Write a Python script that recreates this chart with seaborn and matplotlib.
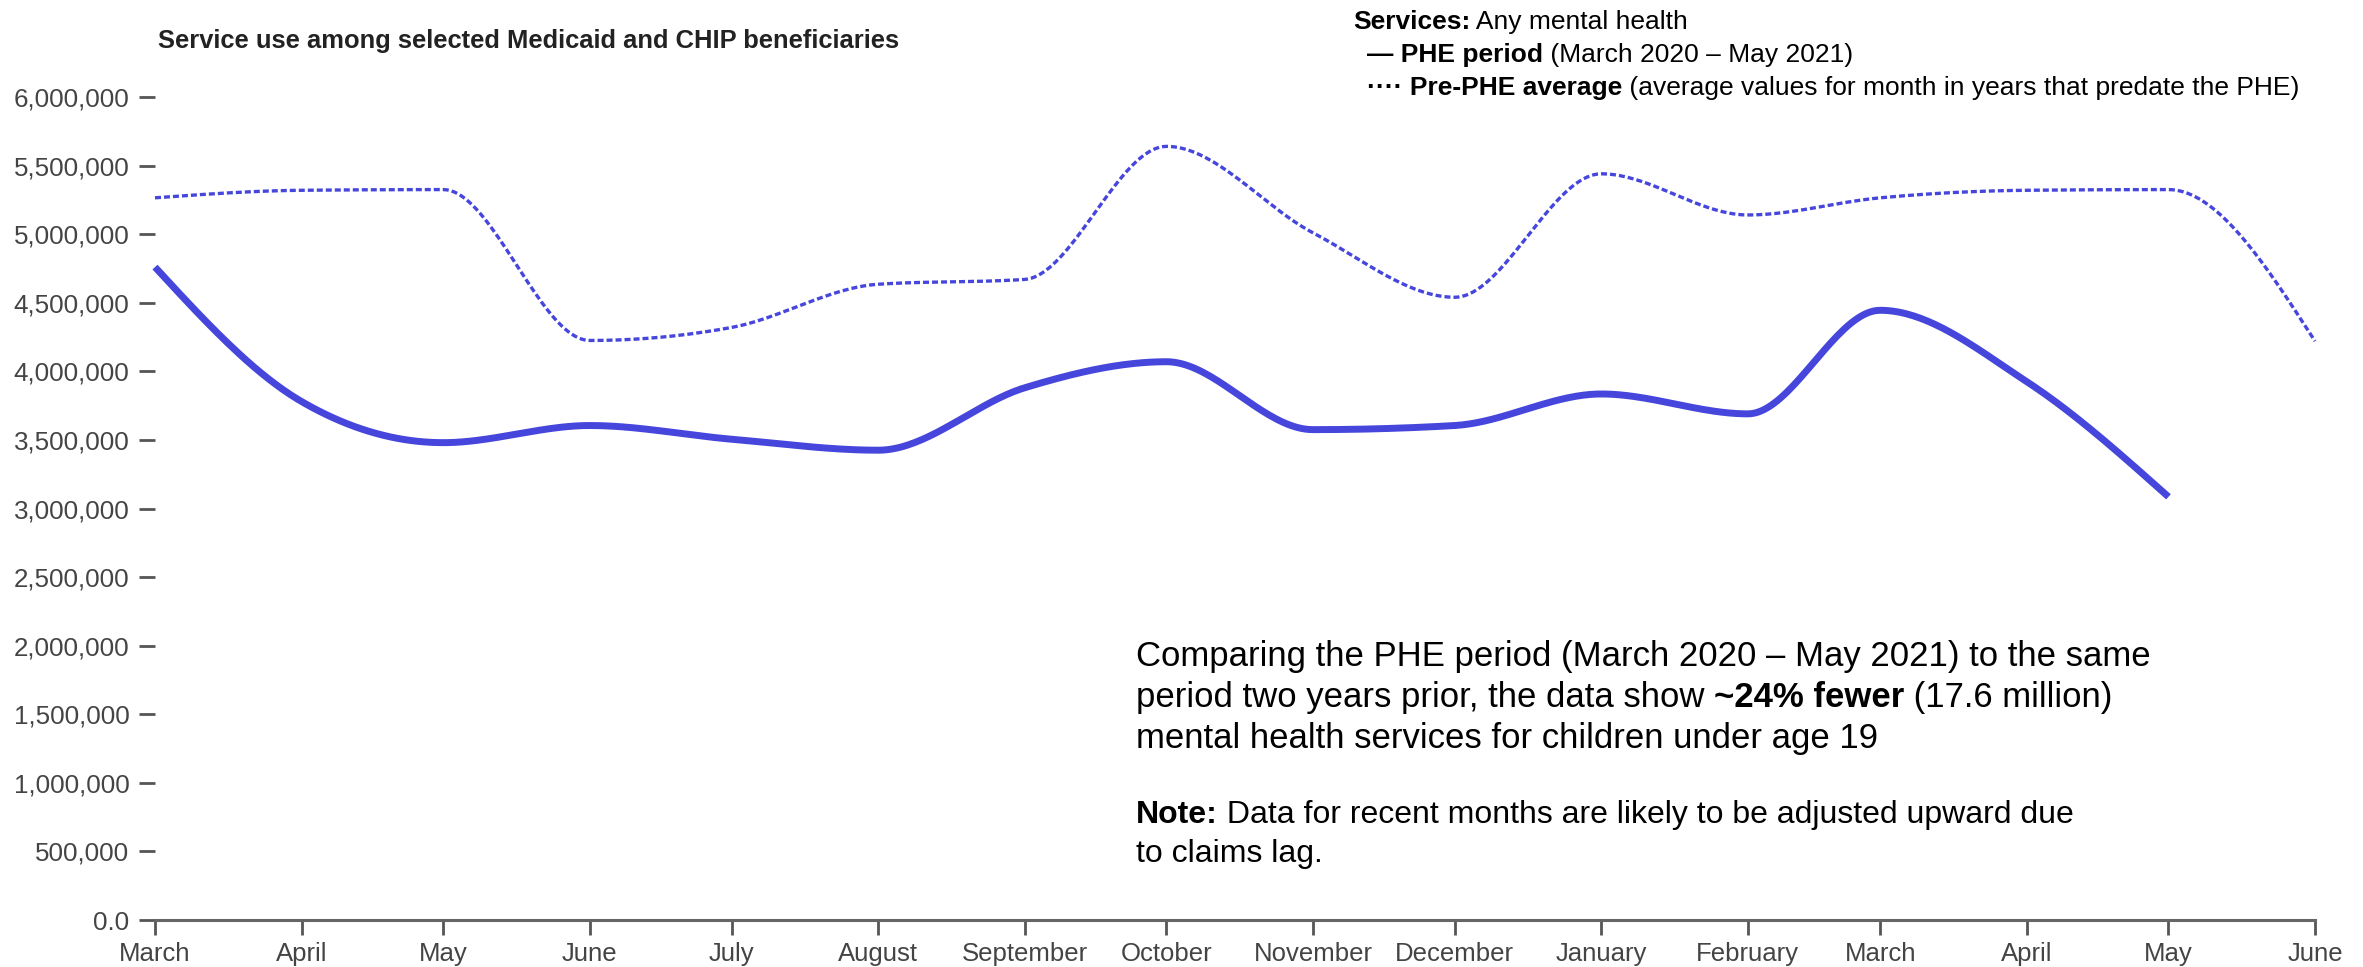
import numpy as np
import pandas as pd
import matplotlib
matplotlib.use("Agg")
import matplotlib.pyplot as plt
import matplotlib.dates as mdates
from matplotlib.ticker import FuncFormatter
import seaborn as sns

sns.set_style("white")
plt.rcParams['font.family'] = ['Liberation Sans', 'DejaVu Sans']

# data (services per month)
months = pd.date_range("2020-03-01", "2021-06-01", freq="MS")
month_labels = ["March", "April", "May", "June", "July", "August", "September",
                "October", "November", "December", "January", "February",
                "March", "April", "May", "June"]
phe_values = [4760000, 3780000, 3480000, 3605000, 3505000, 3425000, 3880000,
              4070000, 3575000, 3605000, 3835000, 3690000, 4445000, 3925000,
              3085000]
pre_phe_values = [5265000, 5320000, 5325000, 4225000, 4320000, 4635000, 4670000,
                  5640000, 5010000, 4540000, 5440000, 5140000, 5265000, 5320000,
                  5325000, 4220000]
yticks = [0, 500000, 1000000, 1500000, 2000000, 2500000, 3000000, 3500000,
          4000000, 4500000, 5000000, 5500000, 6000000]

LINE_COLOR = "#4646DC"
W, H = 2363, 967


def monotone_x(xs, ys, n=40):
    # same smoothing as d3.curveMonotoneX, only for drawing the line
    xs = np.asarray(xs, float)
    ys = np.asarray(ys, float)
    h = np.diff(xs)
    s = np.diff(ys) / h
    sgn = lambda v: np.where(v < 0, -1.0, 1.0)
    t = np.zeros(len(xs))
    p = (s[:-1] * h[1:] + s[1:] * h[:-1]) / (h[:-1] + h[1:])
    t[1:-1] = (sgn(s[:-1]) + sgn(s[1:])) * np.minimum(
        np.minimum(np.abs(s[:-1]), np.abs(s[1:])), 0.5 * np.abs(p))
    t[0] = (3 * s[0] - t[1]) / 2
    t[-1] = (3 * s[-1] - t[-2]) / 2
    out_x, out_y = [], []
    for i in range(len(h)):
        u = np.linspace(0, 1, n, endpoint=(i == len(h) - 1))
        h00 = 2 * u**3 - 3 * u**2 + 1
        h10 = u**3 - 2 * u**2 + u
        h01 = -2 * u**3 + 3 * u**2
        h11 = u**3 - u**2
        out_x.append(xs[i] + u * h[i])
        out_y.append(h00 * ys[i] + h10 * h[i] * t[i] + h01 * ys[i + 1] + h11 * h[i] * t[i + 1])
    return np.concatenate(out_x), np.concatenate(out_y)


xnum = mdates.date2num(months)

fig = plt.figure(figsize=(W / 100, H / 100), dpi=100)
ax = fig.add_axes([155 / W, (H - 920) / H, (2315 - 155) / W, (920 - 97) / H])

px, py = monotone_x(xnum[:len(phe_values)], phe_values)
qx, qy = monotone_x(xnum, pre_phe_values)
sns.lineplot(x=qx, y=qy, ax=ax, color=LINE_COLOR, lw=2.4, sort=False,
             estimator=None)
ax.lines[-1].set_dashes((1.8, 0.9))
sns.lineplot(x=px, y=py, ax=ax, color=LINE_COLOR, lw=5.0, sort=False,
             estimator=None)
for ln in ax.lines:
    ln.set_clip_on(False)
    ln.set_solid_capstyle("butt")

ax.set_xlim(xnum[0], xnum[-1])
ax.set_ylim(0, 6000000)
ax.set_xticks(xnum, month_labels)
ax.set_yticks(yticks)
ax.yaxis.set_major_formatter(FuncFormatter(lambda v, _: "0.0" if v == 0 else f"{v:,.0f}"))

for side in ["left", "top", "right"]:
    ax.spines[side].set_visible(False)
ax.spines["bottom"].set_color("#666666")
ax.spines["bottom"].set_linewidth(2.2)
ax.tick_params(axis="y", length=11.5, width=2.0, color="#555555", pad=7,
               labelsize=18.7, labelcolor="#444444", left=True)
ax.tick_params(axis="x", length=11, width=2.0, color="#555555", pad=5,
               labelsize=18.5, labelcolor="#444444", bottom=True)
ax.set_xlabel("")
ax.set_ylabel("")

fig.text(158 / W, 1 - 41 / H, "Service use among selected Medicaid and CHIP beneficiaries",
         fontsize=18.4, fontweight="bold", color="#222222", va="center")

renderer = fig.canvas.get_renderer()


def piece_width(s, size, weight):
    # width of a text piece incl. spaces, in pixels
    a = fig.text(0, 0, "|" + s + "|", fontsize=size, fontweight=weight)
    b = fig.text(0, 0, "||", fontsize=size, fontweight=weight)
    w = a.get_window_extent(renderer).width - b.get_window_extent(renderer).width
    a.remove()
    b.remove()
    return w


def rich_line(x, y, parts, size, color="black"):
    for s, weight in parts:
        fig.text(x / W, 1 - y / H, s, fontsize=size, fontweight=weight,
                 color=color, va="baseline", ha="left")
        x += piece_width(s, size, weight)


# legend block, top right
rich_line(1353, 29, [("Services:", "bold"), (" Any mental health", "normal")], 19)
rich_line(1367, 62, [("\u2014 PHE period", "bold"), (" (March 2020 \u2013 May 2021)", "normal")], 19)
rich_line(1367, 95, [("\u00b7\u00b7\u00b7\u00b7 Pre-PHE average", "bold"),
                     (" (average values for month in years that predate the PHE)", "normal")], 19)

# annotation block
rich_line(1136, 666, [("Comparing the PHE period (March 2020 \u2013 May 2021) to the same", "normal")], 25)
rich_line(1136, 707, [("period two years prior, the data show ", "normal"), ("~24% fewer", "bold"),
                      (" (17.6 million)", "normal")], 25)
rich_line(1136, 748, [("mental health services for children under age 19", "normal")], 25)
rich_line(1136, 823, [("Note:", "bold"), (" Data for recent months are likely to be adjusted upward due", "normal")], 23)
rich_line(1136, 862, [("to claims lag.", "normal")], 23)

fig.savefig("out.png", dpi=100)
